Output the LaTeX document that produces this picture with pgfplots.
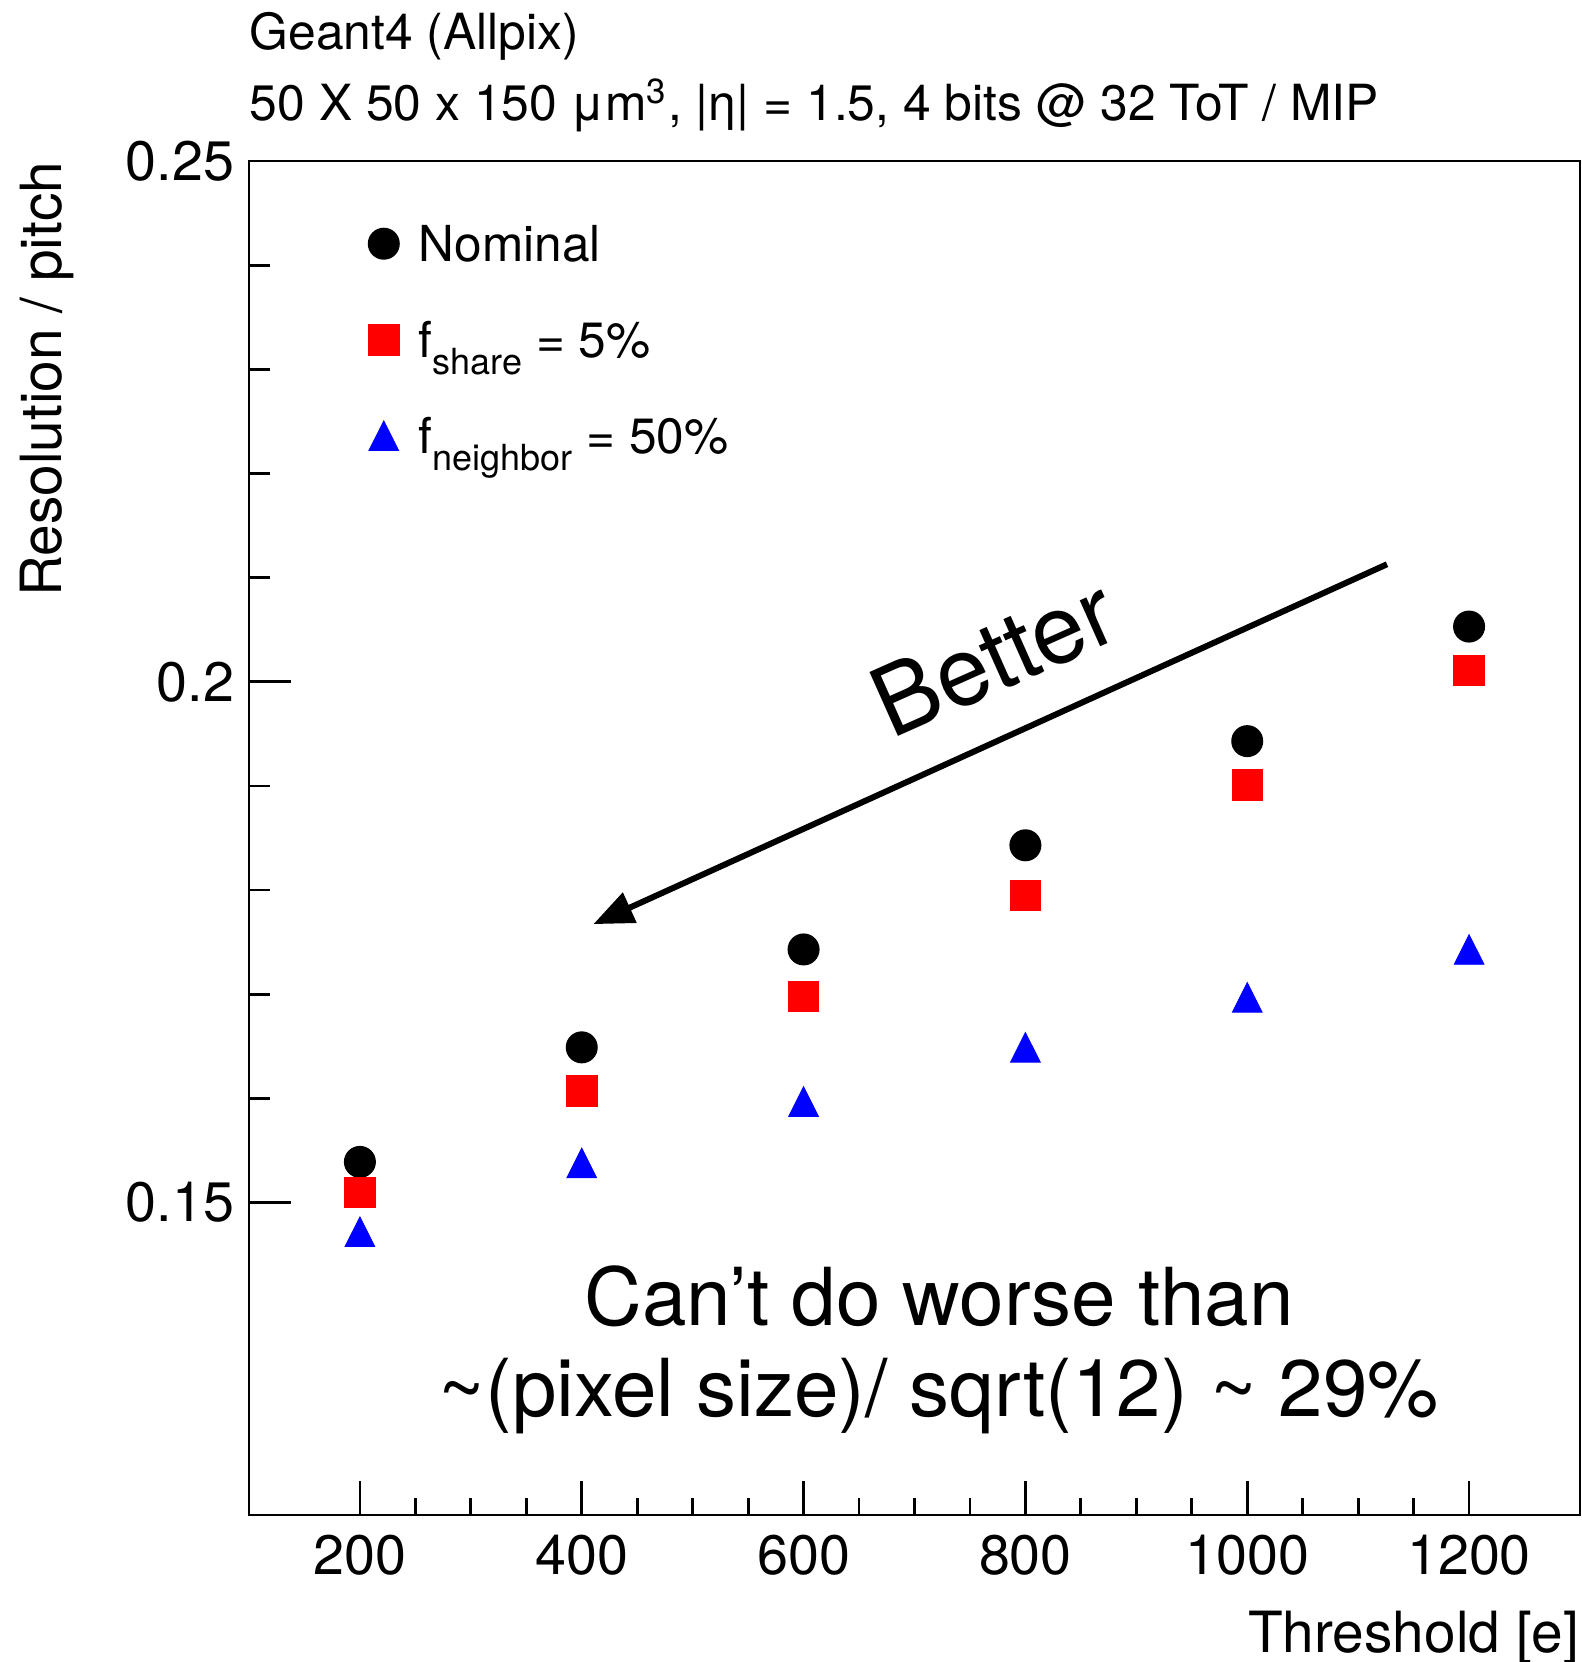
\documentclass[border=0pt]{standalone}
\usepackage{pgfplots}
\pgfplotsset{compat=1.18}
\usetikzlibrary{arrows.meta}
\usepackage{fontspec}
\setmainfont{TeX Gyre Heros}
\newcommand\fs[2]{\fontsize{#1}{#2}\selectfont}
\newcommand\sub[1]{\raisebox{-4.2pt}{\fs{9}{10}#1}}
\begin{document}
\begin{tikzpicture}
\useasboundingbox (0,0) rectangle (395.5pt,415.5pt);
\begin{axis}[
  at={(62.25pt,36.75pt)}, anchor=south west,
  scale only axis, width=332.75pt, height=338.5pt,
  clip=false,
  xmin=100, xmax=1300, ymin=0.12, ymax=0.25,
  xtick={200,400,600,800,1000,1200}, xticklabels={200,400,600,800,1000,1200}, minor x tick num=3,
  ytick={0.15,0.2,0.25}, yticklabels={0.15,0.2,0.25}, minor y tick num=4,
  scaled ticks=false,
  tick align=inside, xtick pos=bottom, ytick pos=left,
  axis line style={line width=0.7pt},
  every tick/.style={black, line width=0.7pt},
  xtick style={/pgfplots/major tick length=8.5pt, /pgfplots/minor tick length=4.25pt},
  ytick style={/pgfplots/major tick length=10.5pt, /pgfplots/minor tick length=5.3pt},
  /pgf/number format/assume math mode=true,
  ticklabel style={font=\fs{13.9}{16}},
  xticklabel style={inner sep=0pt, anchor=north, yshift=-4.75pt},
  yticklabel style={inner sep=0pt, anchor=east, xshift=-3.5pt},
  xlabel={Threshold [e]},
  ylabel={Resolution / pitch},
  xlabel style={at={(axis description cs:1,-0.1019)}, anchor=base east, inner sep=0pt, font=\fs{14.2}{17}},
  ylabel style={at={(axis description cs:-0.1409,1)}, anchor=base east, inner sep=0pt, font=\fs{14.2}{17}},
  legend image code/.code={\pgfpathrectangle{\pgfpoint{-3.75pt}{-2pt}}{\pgfpoint{12.5pt}{10pt}}\pgfusepath{use as bounding box}\draw[#1] plot coordinates {(0pt,1.4pt)};},
  legend style={at={(axis description cs:0.0894,0.959)}, anchor=north west, draw=none, fill=none,
    inner sep=0pt, row sep=9pt, font=\fs{12.4}{15}, cells={anchor=west},
    nodes={inner sep=0pt, text height=10pt, text depth=4pt}},
]
\addplot[only marks, mark=*, mark size=3.8pt, black] coordinates {
  (200,0.1539) (400,0.1649) (600,0.1743) (800,0.1843) (1000,0.1943) (1200,0.2053)};
\addlegendentry{Nominal}
\addplot[only marks, mark=square*, mark size=3.8pt, red, mark options={line width=0.2pt}] coordinates {
  (200,0.1510) (400,0.1607) (600,0.1698) (800,0.1795) (1000,0.1901) (1200,0.2011)};
\addlegendentry{f\sub{share} = 5\%}
\addplot[only marks, mark=triangle*, mark size=4.3pt, blue, mark options={yshift=-1.24pt, yscale=1.15, line width=0.2pt}] coordinates {
  (200,0.1472) (400,0.1538) (600,0.1597) (800,0.1649) (1000,0.1697) (1200,0.1743)};
\addlegendentry{f\sub{neighbor} = 50\%}

\draw[line width=1.5pt, -{Triangle[length=10pt,width=8pt]}] (axis cs:1126,0.21128) -- (axis cs:410.5,0.17673);
\node[rotate=24, anchor=base west, inner sep=0pt, font=\fs{24}{28}] at (axis cs:679,0.19439) {Better};
\node[anchor=base, inner sep=0pt, font=\fs{20}{24}] at (axis cs:722,0.13818) {Can’t do worse than};
\node[anchor=base, inner sep=0pt, font=\fs{20}{24}] at (axis cs:722,0.12943) {\textasciitilde(pixel size)/ sqrt(12) \textasciitilde{} 29\%};

\node[anchor=base west, inner sep=0pt, font=\fs{12.45}{15}] at (axis description cs:0,1.0827) {Geant4 (Allpix)};
\node[anchor=base west, inner sep=0pt, font=\fs{12.45}{15}] at (axis description cs:0,1.0296) {50 X 50 x 150 μm\textsuperscript{3}, |η| = 1.5, 4 bits @ 32 ToT / MIP};
\end{axis}
\end{tikzpicture}
\end{document}
